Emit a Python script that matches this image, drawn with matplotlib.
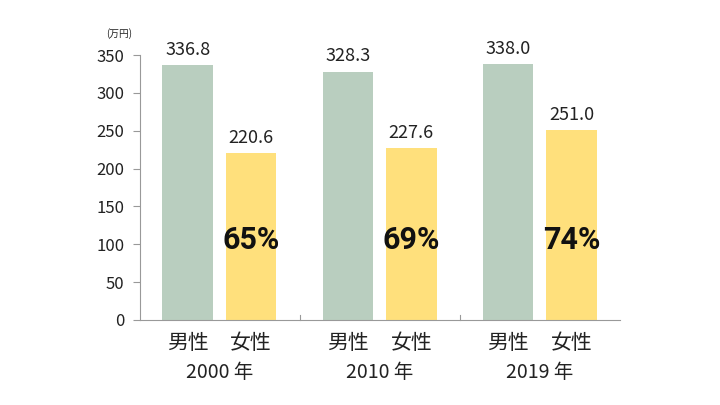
import numpy as np
import matplotlib.pyplot as plt

plt.rcParams['font.family'] = ['Noto Sans CJK JP', 'DejaVu Sans']

# data
years = ['2000 年', '2010 年', '2019 年']
male = [336.8, 328.3, 338.0]
female = [220.6, 227.6, 251.0]
ratio = ['65%', '69%', '74%']
sex_labels = ['男性', '女性']

GREEN = '#b9cebf'
YELLOW = '#ffe07c'
TEXT = '#222222'

fig = plt.figure(figsize=(7.2, 4.05), dpi=100)
ax = fig.add_axes([0.194, 0.21, 0.667, 0.654])

x = np.arange(len(years))
w = 0.315
xm = x + 0.30
xf = x + 0.697

ax.bar(xm, male, width=w, color=GREEN)
ax.bar(xf, female, width=w, color=YELLOW)

for i in range(len(years)):
    ax.text(xm[i], male[i] + 8, f'{male[i]:.1f}', ha='center', va='bottom',
            fontsize=13, color=TEXT)
    ax.text(xf[i], female[i] + 8, f'{female[i]:.1f}', ha='center', va='bottom',
            fontsize=13, color=TEXT)
    ax.text(xf[i], 106, ratio[i], ha='center', va='center', fontsize=22,
            fontweight='bold', color='#111111', family=['Roboto', 'DejaVu Sans'])
    ax.text(xm[i], -16, sex_labels[0], ha='center', va='top', fontsize=15,
            color=TEXT)
    ax.text(xf[i], -16, sex_labels[1], ha='center', va='top', fontsize=15,
            color=TEXT)
    ax.text(x[i] + 0.5, -55, years[i], ha='center', va='top', fontsize=14,
            color=TEXT)

# small separators between groups
for s in [1, 2]:
    ax.plot([s, s], [0, 6], color='#999999', lw=0.8, clip_on=False)

ax.set_xlim(0, 3)
ax.set_ylim(0, 350)
ax.set_yticks(np.arange(0, 351, 50))
ax.set_xticks([])
ax.tick_params(axis='y', direction='out', length=5, color='#999999',
               labelsize=12, labelcolor=TEXT, pad=6)
for side in ['top', 'right']:
    ax.spines[side].set_visible(False)
for side in ['left', 'bottom']:
    ax.spines[side].set_color('#999999')
    ax.spines[side].set_linewidth(0.8)

fig.text(0.148, 0.918, '(万円)', fontsize=7, color=TEXT, ha='left', va='center')

fig.savefig('out.png', dpi=100)
